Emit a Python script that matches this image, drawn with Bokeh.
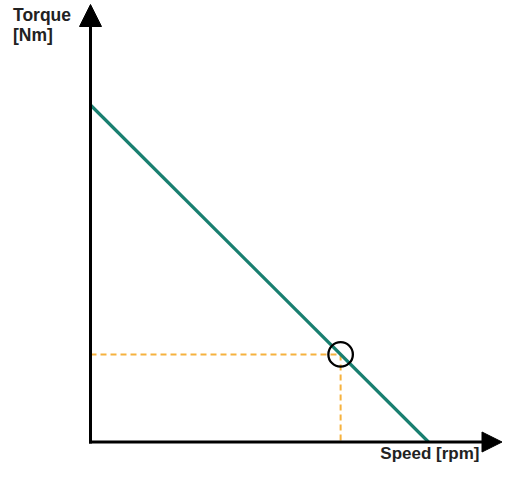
from bokeh.plotting import figure
from bokeh.models import Range1d, Arrow, NormalHead, Label
from bokeh.embed import file_html
from bokeh.resources import INLINE

# ---- data ----
speed_curve = [0, 100]        # speed (arbitrary units)
torque_curve = [100, 0]       # torque (arbitrary units)
op_speed = [74]               # operating point speed
op_torque = [26]              # operating point torque
x_label = "Speed [rpm]"
y_label_lines = ["Torque", "[Nm]"]

# ---- layout ----
W, H = 503, 464
x0_px, sx = 90.0, 3.38   # canvas px of speed 0, px per unit
y0_px, sy = 22.5, 3.37   # px (from bottom) of torque 0, px per unit

p = figure(width=W, height=H, output_backend="svg", toolbar_location=None,
           x_range=Range1d(-x0_px / sx, (W - x0_px) / sx),
           y_range=Range1d(-y0_px / sy, (H - y0_px) / sy),
           min_border=0, outline_line_color=None)
p.xaxis.visible = False
p.yaxis.visible = False
p.grid.visible = False
p.background_fill_color = "white"
p.border_fill_color = "white"

orange = "#f6b23e"
teal = "#197f70"

# dashed guide lines
p.line([0, op_speed[0]], [op_torque[0], op_torque[0]], line_color=orange,
       line_width=2, line_dash="6 4")
p.line([op_speed[0], op_speed[0]], [op_torque[0], 0], line_color=orange,
       line_width=2, line_dash="6 4")

# characteristic line
p.line(speed_curve, torque_curve, line_color=teal, line_width=3.2)

# operating point circle
p.scatter(op_speed, op_torque, marker="circle", size=24.5, fill_color=None,
          line_color="black", line_width=2.3)

# axes as arrows
xe = (W - x0_px - 1.5) / sx
ye = (H - y0_px - 4) / sy
p.add_layout(Arrow(end=NormalHead(size=20, fill_color="black", line_color="black", line_width=1),
                   x_start=0, y_start=0, x_end=xe, y_end=0,
                   line_color="black", line_width=3, line_cap="square"))
p.add_layout(Arrow(end=NormalHead(size=22, fill_color="black", line_color="black", line_width=1),
                   x_start=0, y_start=0, x_end=0, y_end=ye,
                   line_color="black", line_width=3, line_cap="square"))

font = "Liberation Sans"
tc = "#222222"
p.add_layout(Label(x=12.5, y=H - 14.5, x_units="screen", y_units="screen",
                   text=y_label_lines[0], text_font=font, text_font_size="17.5px",
                   text_font_style="bold", text_color=tc, text_baseline="alphabetic"))
p.add_layout(Label(x=12.5, y=H - 34.5, x_units="screen", y_units="screen",
                   text=y_label_lines[1], text_font=font, text_font_size="17.5px",
                   text_font_style="bold", text_color=tc, text_baseline="alphabetic"))
p.add_layout(Label(x=479, y=H - 453, x_units="screen", y_units="screen",
                   text=x_label, text_font=font, text_font_size="17px",
                   text_font_style="bold", text_color=tc, text_baseline="alphabetic",
                   text_align="right"))

open("out.html", "w").write(file_html(p, INLINE))
